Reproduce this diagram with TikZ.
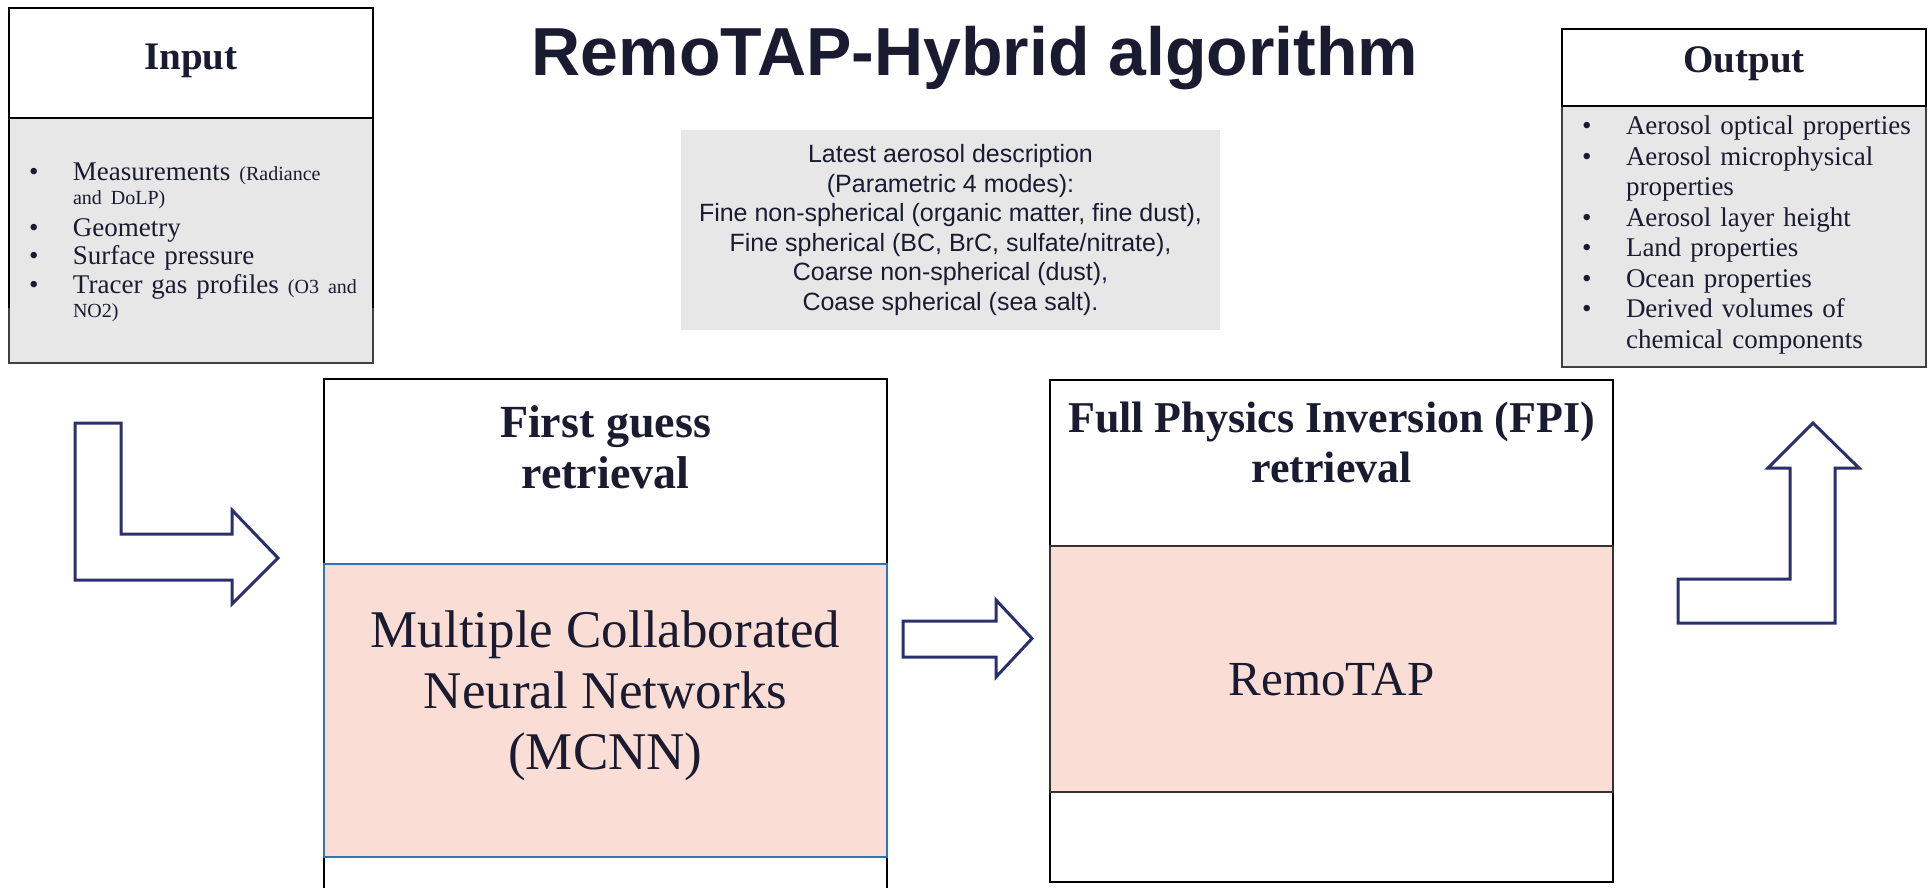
\documentclass[tikz,border=0pt]{standalone}
\usepackage{fontspec}
\setmainfont{Liberation Serif}
\setsansfont{Liberation Sans}
\usetikzlibrary{positioning}

\definecolor{ink}{RGB}{26,27,48}
\definecolor{navy}{RGB}{42,48,108}
\definecolor{boxgrey}{RGB}{231,231,231}
\definecolor{rosefill}{RGB}{250,222,214}
\definecolor{mcblue}{RGB}{46,117,182}

% bullet lines of the input / output lists
\newcommand\bitem[1]{\noindent\makebox[44pt][l]{\textbullet}#1\par}
\newcommand\bmore[1]{\noindent\hspace*{44pt}#1\par}
\newcommand\smalltxt[1]{{\fontsize{20}{28.5}\selectfont#1}}
\newcommand\bsmall[1]{\vspace*{-4.5pt}\bmore{\smalltxt{#1}}\vspace*{3pt}}

\begin{document}
\begin{tikzpicture}[x=1pt,y=1pt,yscale=-1,
  every node/.style={inner sep=0pt,outer sep=0pt,text=ink},
  headbox/.style={draw=black,line width=2.5pt,fill=white},
  listbox/.style={draw=black!75,line width=1.5pt,fill=boxgrey},
  stagebox/.style={draw=black,line width=2.5pt,fill=white,minimum width=563},
  roseblock/.style={fill=rosefill,minimum width=563},
  headtext/.style={font=\bfseries\fontsize{39}{44}\selectfont,anchor=base},
  stagetext/.style={align=center,anchor=base},
  listtext/.style={font=\fontsize{27}{28.5}\selectfont,text width=350,anchor=north west},
  blockarrow/.style={draw=navy,line width=3pt,fill=white,line join=miter}]
\useasboundingbox (0,0) rectangle (1932,887);

% input and output boxes
\node[listbox,minimum width=364,minimum height=245] (inbody) at (191,240.5) {};
\draw[black,line width=2.5pt] (9,118) -- (9,308) (373,118) -- (373,308);
\node[headbox,minimum width=364,minimum height=110] (inhead) at (191,63) {};
\node[headtext] (intitle) at (191,69) {Input};
\node[listtext] (inlist) at (29,163) {%
\bitem{Measurements \smalltxt{(Radiance}}
\bsmall{and DoLP)}
\bitem{Geometry}
\bitem{Surface pressure}
\bitem{Tracer gas profiles \smalltxt{(O3 and}}
\bsmall{NO2)}};

\node[listbox,minimum width=364,minimum height=261] (outbody) at (1744,236.5) {};
\node[headbox,minimum width=364,minimum height=77] (outhead) at (1744,67.5) {};
\node[headtext] (outtitle) at (1744,72) {Output};
\node[listtext,font=\fontsize{27}{30.5}\selectfont] (outlist) at (1582,116) {%
\bitem{Aerosol optical properties}
\bitem{Aerosol microphysical}
\bmore{properties}
\bitem{Aerosol layer height}
\bitem{Land properties}
\bitem{Ocean properties}
\bitem{Derived volumes of}
\bmore{chemical components}};

% title and aerosol description
\node[font=\sffamily\bfseries\fontsize{68}{74}\selectfont,anchor=base] (title) at (975,75) {RemoTAP-Hybrid algorithm};
\node[fill=boxgrey,minimum width=539,minimum height=200,align=center,
  font=\sffamily\fontsize{25}{29.5}\selectfont] (aerosol) at (950.5,230) {Latest aerosol description\\
 (Parametric 4 modes):\\
Fine non-spherical (organic matter, fine dust),\\
Fine spherical (BC, BrC, sulfate/nitrate),\\
Coarse non-spherical (dust),\\
Coase spherical (sea salt).};

% first guess stage
\node[stagebox,minimum height=516] (fgbox) at (605.5,637) {};
\node[roseblock,draw=mcblue,line width=1.5pt,minimum height=293] (mcnn) at (605.5,710.5) {};
\node[stagetext,font=\bfseries\fontsize{46}{51}\selectfont] (fgtitle) at (605.5,488) {First guess\\retrieval};
\node[stagetext,font=\fontsize{53}{61}\selectfont] (mcnntext) at (605.5,769) {Multiple Collaborated\\Neural Networks\\(MCNN)};

% full physics stage
\node[stagebox,minimum height=502] (fpibox) at (1331.5,631) {};
\node[roseblock,draw=black!80,line width=1.5pt,minimum height=246] (remotap) at (1331.5,669) {};
\node[stagetext,font=\bfseries\fontsize{44}{50}\selectfont] (fpititle) at (1331.5,482) {Full Physics Inversion (FPI)\\retrieval};
\node[font=\fontsize{49}{56}\selectfont,anchor=base] (remotaptext) at (1331.5,695) {RemoTAP};

% block arrows
\draw[blockarrow] (75,423) -- (121,423) -- (121,534) -- (232,534) -- (232,510) -- (278,558)
  -- (232,604) -- (232,580) -- (75,580) -- cycle;
\draw[blockarrow] (903,621) -- (996,621) -- (996,600) -- (1032,638.5) -- (996,677) -- (996,657)
  -- (903,657) -- cycle;
\draw[blockarrow] (1678,579) -- (1790,579) -- (1790,468) -- (1768,468) -- (1813,423) -- (1859,468)
  -- (1835,468) -- (1835,623) -- (1678,623) -- cycle;

\end{tikzpicture}
\end{document}
